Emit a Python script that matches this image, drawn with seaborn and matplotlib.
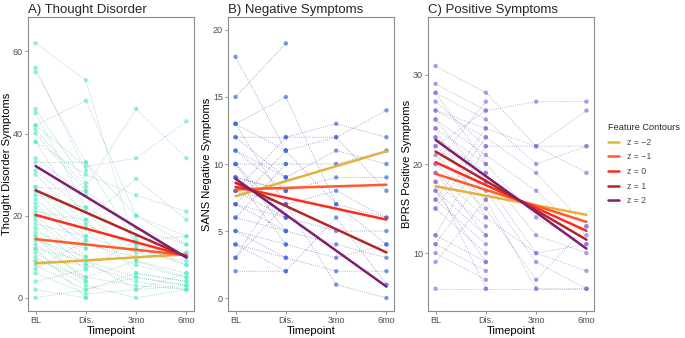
import numpy as np
import pandas as pd
import matplotlib
matplotlib.use("Agg")
import matplotlib.pyplot as plt
import seaborn as sns

nan = np.nan

timepoints = ["BL", "Dis.", "3mo", "6mo"]

# A) Thought disorder, one entry per subject
td_bl = [62, 56, 55, 46, 45, 42, 42, 41, 40, 38, 38, 34, 33, 31, 30, 27, 26, 25, 24, 23, 22, 21, 20,
         19, 18, 17, 16, 15, 14, 13, 12, 11, 10, 9, 8, 7, 6, 4, 2, 0, 20, 15, 27, 12, 9]
td_dis = [53, 31, 33, 28, 22, 48, 32, 27, 26, 30, 19, 25, 33, 21, 18, 17, 15, 22, 14, 12, 13, 19, 10,
          9, 15, 8, 12, 7, 10, 5, 9, 4, 3, 8, 2, 14, 1, 7, 0, 2, 17, 4, 26, 0, 5]
td_3mo = [12, nan, 13, nan, 15, 20, 34, 46, nan, 25, 29, nan, 20, 9, 12, nan, 11, nan, 8, nan, 10, 6, nan,
          5, nan, 4, nan, 14, nan, 3, 2, nan, 0, nan, 6, nan, 2, nan, nan, 5, 13, nan, 17, nan, 9]
td_6mo = [8, nan, 10, nan, 11, 15, 43, 34, nan, 21, 19, nan, 13, 6, 10, nan, 9, nan, 5, nan, 11, 4, nan,
          3, nan, 2, nan, 15, nan, 2, 6, nan, 2, nan, 4, nan, 3, nan, nan, 3, 8, nan, 13, nan, 5]

# B) Negative symptoms (SANS)
neg_bl = [15, 18, 13, 13, 12, 11, 10, 9, 8, 8, 7, 6, 5, 4, 3, 2, 12, 10, 9, 7, 6, 5, 4, 11, 9, 8, 3, 7, 13, 10]
neg_dis = [19, 11, 15, 11, 12, 9, 10, 8, 12, 7, 6, 5, 4, 3, 7, 2, 9, 6, 8, 5, 10, 3, 2, 8, 4, 6, 9, 11, 7, 5]
neg_3mo = [nan, 7, 7, 12, 13, 11, 10, 9, 12, 8, 5, 4, 3, 2, 1, 6, nan, nan, nan, nan, nan, nan, nan, nan,
           nan, nan, nan, nan, nan, nan]
neg_6mo = [nan, 6, 4, 14, 12, 10, 11, 9, 8, 6, 5, 3, 4, 2, 0, 1, nan, nan, nan, nan, nan, nan, nan, nan,
           nan, nan, nan, nan, nan, nan]

# C) Positive symptoms (BPRS)
pos_bl = [31, 29, 28, 27, 26, 26, 25, 24, 23, 23, 22, 21, 20, 19, 18, 17, 16, 15, 12, 11, 10, 9, 6, 12,
          20, 25, 22, 18, 16, 24, 19, 11, 28, 17, 15]
pos_dis = [28, 26, 25, 22, 24, 23, 21, 20, 19, 18, 17, 16, 15, 14, 13, 12, 11, 10, 9, 8, 7, 16, 6, 22,
           27, 18, 26, 6, 24, 14, 12, 19, 20, 9, 23]
pos_3mo = [22, 27, 20, 22, 22, 19, 17, 14, 12, 10, 9, 6, 7, 10, nan, nan, nan, nan, nan, nan, nan, nan, 6,
           nan, nan, nan, nan, nan, nan, nan, nan, nan, nan, nan, nan]
pos_6mo = [19, 27, 22, 26, 22, 13, 12, 11, 10, 8, 6, 6, 13, 11, nan, nan, nan, nan, nan, nan, nan, nan, 6,
           nan, nan, nan, nan, nan, nan, nan, nan, nan, nan, nan, nan]

# model contour lines (value at BL and at 6mo for each z)
contour_labels = ["z = \u22122", "z = \u22121", "z = 0", "z = 1", "z = 2"]
contour_colors = ["#E3B23C", "#FF5A2B", "#FF2B1C", "#B32626", "#7E1F70"]
td_fit_bl = [8.4, 14.3, 20.2, 26.2, 32.1]
td_fit_6mo = [10.6, 10.4, 10.2, 10.0, 9.8]
neg_fit_bl = [7.6, 8.1, 8.3, 8.6, 8.9]
neg_fit_6mo = [10.95, 8.45, 5.85, 3.4, 0.85]
pos_fit_bl = [17.5, 18.9, 20.2, 21.4, 22.7]
pos_fit_6mo = [14.3, 13.5, 12.5, 11.5, 10.5]


def long_df(cols):
    rows = []
    for t, col in enumerate(cols):
        for sid, v in enumerate(col):
            if not np.isnan(v):
                rows.append({"subject": sid, "time": t, "value": v})
    return pd.DataFrame(rows)


def fit_df(bl, end):
    rows = []
    for lab, a, b in zip(contour_labels, bl, end):
        rows.append({"z": lab, "time": 0, "value": a})
        rows.append({"z": lab, "time": 3, "value": b})
    return pd.DataFrame(rows)


sns.set_theme(style="white")
plt.rcParams["font.family"] = ["Liberation Sans", "DejaVu Sans"]

fig = plt.figure(figsize=(6.85, 3.38), dpi=100)
bottom, top = 1 - 311 / 338, 1 - 17 / 338
lefts = [28, 228, 428]
width = 166

panels = [
    ("A) Thought Disorder", "Thought Disorder Symptoms", [td_bl, td_dis, td_3mo, td_6mo],
     td_fit_bl, td_fit_6mo, "#5FEDC9", "#2F9C86", (-3.2, 68.4), [0, 20, 40, 60]),
    ("B) Negative Symptoms", "SANS Negative Symptoms", [neg_bl, neg_dis, neg_3mo, neg_6mo],
     neg_fit_bl, neg_fit_6mo, "#4169E1", "#1F2C8A", (-0.97, 20.97), [0, 5, 10, 15, 20]),
    ("C) Positive Symptoms", "BPRS Positive Symptoms", [pos_bl, pos_dis, pos_3mo, pos_6mo],
     pos_fit_bl, pos_fit_6mo, "#9370DB", "#5A4A9C", (3.5, 36.5), [10, 20, 30]),
]

axes = []
for i, (title, ylab, cols, fbl, fend, pcol, lcol, ylim, yticks) in enumerate(panels):
    ax = fig.add_axes([lefts[i] / 685, bottom, width / 685, top - bottom])
    axes.append(ax)
    d = long_df(cols)
    sns.lineplot(data=d, x="time", y="value", units="subject", estimator=None, ax=ax,
                 color=lcol, lw=0.6, linestyle=(0, (1, 1.6)), alpha=0.5, legend=False)
    sns.scatterplot(data=d, x="time", y="value", ax=ax, color=pcol, s=10, alpha=0.7,
                    edgecolor="none", legend=False, zorder=3)
    f = fit_df(fbl, fend)
    sns.lineplot(data=f, x="time", y="value", hue="z", hue_order=contour_labels,
                 palette=contour_colors, ax=ax, lw=1.8, legend=(i == 2), zorder=4)
    ax.set_xlim(-0.15, 3.15)
    ax.set_ylim(*ylim)
    ax.set_xticks(range(4))
    ax.set_xticklabels(timepoints)
    ax.set_yticks(yticks)
    ax.set_xlabel("Timepoint", fontsize=8, color="black", labelpad=0.5)
    ax.set_ylabel(ylab, fontsize=8, color="black", labelpad=0.5)
    ax.set_title(title, loc="left", fontsize=9.5, pad=3)
    ax.tick_params(axis="both", which="both", direction="out", length=2.5, width=0.6,
                   colors="#7f7f7f", labelcolor="#4d4d4d", labelsize=6.5, pad=1.2,
                   bottom=True, left=True)
    for sp in ax.spines.values():
        sp.set_color("#8c8c8c")
        sp.set_linewidth(0.8)

ax = axes[2]
handles, labels = ax.get_legend_handles_labels()
ax.get_legend().remove()
leg = fig.legend(handles, labels, title="Feature Contours", loc="upper left",
                 bbox_to_anchor=(600 / 685, 1 - 115 / 338), frameon=False, fontsize=6.3,
                 title_fontsize=6.6, handlelength=1.3, labelspacing=0.65, handletextpad=0.9)
leg._legend_box.align = "left"
for t in leg.get_texts():
    t.set_color("#4d4d4d")

fig.savefig("out.png", dpi=100)
